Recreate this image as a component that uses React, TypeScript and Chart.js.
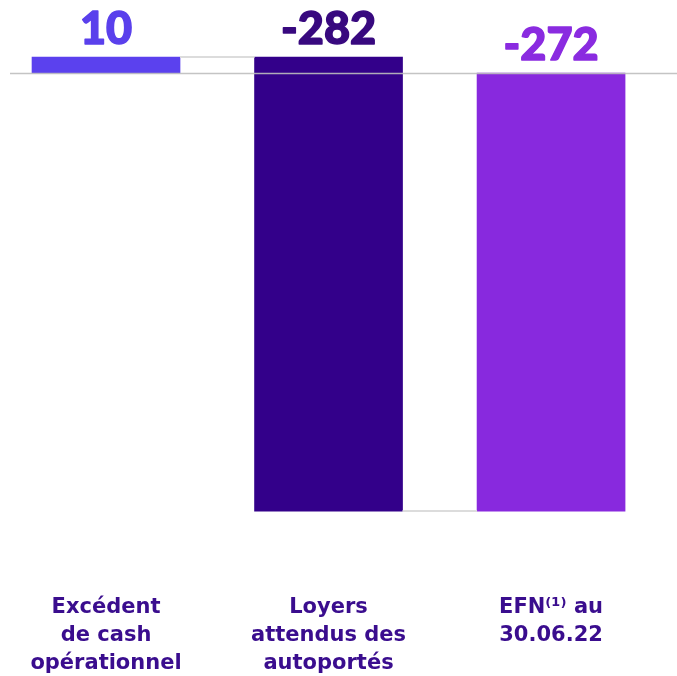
import React, { useEffect, useRef } from "react";
import { Chart, registerables } from "chart.js";

Chart.register(...registerables);

const categoryLines: string[][] = [
  ["Excédent", "de cash", "opérationnel"],
  ["Loyers", "attendus des", "autoportés"],
  ["EFN⁽¹⁾ au", "30.06.22"],
];
const stepValues: number[] = [10, -282, -272];
const isTotal: boolean[] = [false, false, true];
const categoryIndex: number[] = [0, 1, 2];
const barColors: string[] = ["#5b41ee", "#33008a", "#8829de"];
const labelColors: string[] = ["#5a40ec", "#38097f", "#8a2be0"];

// waterfall floating ranges
const ranges: [number, number][] = (() => {
  let run = 0;
  return stepValues.map((v, i) => {
    if (isTotal[i]) {
      run = v;
      return [0, v] as [number, number];
    }
    const r: [number, number] = [run, run + v];
    run += v;
    return r;
  });
})();

export default function App() {
  const ref = useRef<HTMLCanvasElement | null>(null);
  useEffect(() => {
    document.body.style.margin = "0";
    const canvas = ref.current!;
    const overlay = {
      id: "overlay",
      afterDatasetsDraw(chart: any) {
        const ctx = chart.ctx;
        const y = chart.scales.y;
        const area = chart.chartArea;
        const meta = chart.getDatasetMeta(0);
        ctx.save();
        // connectors
        ctx.strokeStyle = "#dcdcdc";
        ctx.lineWidth = 2;
        for (let i = 0; i < ranges.length - 1; i++) {
          const a: any = meta.data[i];
          const b: any = meta.data[i + 1];
          const yy = y.getPixelForValue(ranges[i][1]);
          ctx.beginPath();
          ctx.moveTo(a.x + a.width / 2, yy);
          ctx.lineTo(b.x - b.width / 2, yy);
          ctx.stroke();
        }
        // baseline
        const y0 = Math.round(y.getPixelForValue(0)) + 0.5;
        ctx.strokeStyle = "rgba(190,190,190,0.9)";
        ctx.lineWidth = 1.5;
        ctx.beginPath();
        ctx.moveTo(area.left, y0);
        ctx.lineTo(area.right, y0);
        ctx.stroke();
        // value labels
        ctx.font = "900 45px Lato";
        ctx.textAlign = "center";
        ctx.textBaseline = "alphabetic";
        ctx.lineJoin = "round";
        ctx.lineWidth = 1.5;
        stepValues.forEach((v, i) => {
          const el: any = meta.data[i];
          const top = y.getPixelForValue(Math.max(ranges[i][0], ranges[i][1]));
          ctx.fillStyle = labelColors[i];
          ctx.strokeStyle = labelColors[i];
          ctx.fillText(String(v), el.x, top - 13);
          ctx.strokeText(String(v), el.x, top - 13);
        });
        ctx.restore();
      },
    };
    const chart = new Chart(canvas, {
      type: "bar",
      data: {
        datasets: [
          {
            data: categoryIndex.map((c, i) => ({ x: c, y: ranges[i] })) as any,
            backgroundColor: barColors,
            barThickness: 148,
            borderSkipped: false,
            borderWidth: 0,
          },
        ],
      },
      options: {
        animation: false,
        responsive: false,
        maintainAspectRatio: false,
        layout: { padding: { left: 10, right: 0, top: 0, bottom: 0 } },
        plugins: { legend: { display: false }, tooltip: { enabled: false } },
        scales: {
          x: {
            type: "linear",
            offset: false,
            min: -0.4315,
            max: 2.566,
            grid: { display: false, drawTicks: false },
            border: { display: false },
            afterBuildTicks: (scale: any) => {
              scale.ticks = categoryIndex.map((v) => ({ value: v }));
            },
            afterFit: (scale: any) => {
              scale.height = 116;
              scale.paddingLeft = 0;
              scale.paddingRight = 0;
            },
            ticks: {
              autoSkip: false,
              maxRotation: 0,
              padding: 34,
              color: "#3a0d8e",
              font: { family: "DejaVu Sans", size: 21, weight: "bold", lineHeight: 1.333 },
              callback: (_v: any, idx: number) => categoryLines[idx],
            },
          },
          y: {
            display: false,
            min: -302.4,
            max: 45.4,
          },
        },
      },
      plugins: [overlay],
    });
    return () => chart.destroy();
  }, []);
  return <canvas ref={ref} width={677} height={676} style={{ display: "block" }} />;
}
